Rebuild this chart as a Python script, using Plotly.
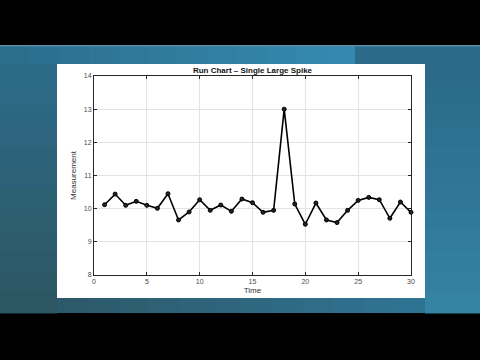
import plotly.graph_objects as go

time = list(range(1, 31))
measurement = [10.12, 10.44, 10.10, 10.22, 10.10, 10.01, 10.45, 9.66, 9.90, 10.27,
               9.95, 10.11, 9.92, 10.29, 10.18, 9.89, 9.95, 13.00, 10.14, 9.53,
               10.17, 9.66, 9.58, 9.95, 10.25, 10.34, 10.27, 9.71, 10.20, 9.89]
x_ticks = [0, 5, 10, 15, 20, 25, 30]
y_ticks = [8, 9, 10, 11, 12, 13, 14]
title_text = "Run Chart – Single Large Spike"

W, H = 480, 360
L, R, T, B = 94, 69, 76, 85
PW, PH = W - L - R, H - T - B

def px(xp):
    return (xp - L) / PW

def py(yp):
    return 1 - (yp - T) / PH

def rect(x0, y0, x1, y1, color, layer="below"):
    return dict(type="rect", xref="paper", yref="paper",
                x0=px(x0), x1=px(x1), y0=py(y1), y1=py(y0),
                fillcolor=color, line=dict(width=0), layer=layer)

def blend(c1, c2, t):
    a = [int(c1[i:i + 2], 16) for i in (1, 3, 5)]
    b = [int(c2[i:i + 2], 16) for i in (1, 3, 5)]
    return "#" + "".join(f"{round(a[k] + (b[k] - a[k]) * t):02x}" for k in range(3))

shapes = [rect(0, 46, 480, 313, "#2c6b87")]
# top band gradient (left to right lighter)
n = 12
for i in range(n):
    x0 = i * 355 / n
    x1 = (i + 1) * 355 / n
    shapes.append(rect(x0, 46, x1 + 0.5, 64, blend("#2b6e8c", "#3589b0", i / (n - 1))))
shapes.append(rect(355, 46, 480, 64, "#2b6a88"))
# left strip vertical gradient
for i in range(n):
    y0 = 64 + i * 249 / n
    y1 = 64 + (i + 1) * 249 / n
    shapes.append(rect(0, y0, 57, y1 + 0.5, blend("#2b6b87", "#2d5663", i / (n - 1))))
# bottom strip below panel
for i in range(n):
    x0 = 57 + i * 368 / n
    x1 = 57 + (i + 1) * 368 / n
    shapes.append(rect(x0, 298, x1 + 0.5, 313, blend("#2d5a6a", "#2f7393", i / (n - 1))))
# right strip vertical gradient
for i in range(n):
    y0 = 64 + i * 249 / n
    y1 = 64 + (i + 1) * 249 / n
    shapes.append(rect(425, y0, 480, y1 + 0.5, blend("#2b6a88", "#3482a4", i / (n - 1))))
shapes.append(rect(0, 45, 480, 46.5, "#5b8ea6"))
shapes.append(rect(57, 64, 425, 298, "#ffffff"))

fig = go.Figure()
fig.add_trace(go.Scatter(
    x=time, y=measurement, mode="lines+markers",
    line=dict(color="black", width=1.6),
    marker=dict(symbol="circle", size=4, color="#222222",
                line=dict(color="black", width=1)),
    showlegend=False, cliponaxis=False,
))

axis_common = dict(
    showline=True, linecolor="#262626", linewidth=1, mirror="ticks",
    ticks="inside", ticklen=3, tickcolor="#262626",
    showgrid=True, gridcolor="#e3e3e3", gridwidth=1, zeroline=False,
    tickfont=dict(family="Liberation Sans, Arial, sans-serif", size=7, color="#4a4a4a"),
)

fig.update_layout(
    width=W, height=H,
    margin=dict(l=L, r=R, t=T, b=B),
    paper_bgcolor="#000000",
    plot_bgcolor="#ffffff",
    shapes=shapes,
    title=dict(text="<b>" + title_text + "</b>", x=(L + PW / 2) / W, xanchor="center",
               y=1 - 70 / H, yanchor="middle",
               font=dict(family="Liberation Sans, Arial, sans-serif", size=8, color="#111111")),
    xaxis=dict(range=[0, 30], tickvals=x_ticks, ticktext=[str(v) for v in x_ticks],
               title=dict(text="Time", standoff=2,
                          font=dict(family="Liberation Sans, Arial, sans-serif", size=8, color="#333333")),
               **axis_common),
    yaxis=dict(range=[8, 14], tickvals=y_ticks, ticktext=[str(v) for v in y_ticks],
               title=dict(text="Measurement", standoff=6,
                          font=dict(family="Liberation Sans, Arial, sans-serif", size=8, color="#333333")),
               **axis_common),
)

fig.write_html("out.html")
